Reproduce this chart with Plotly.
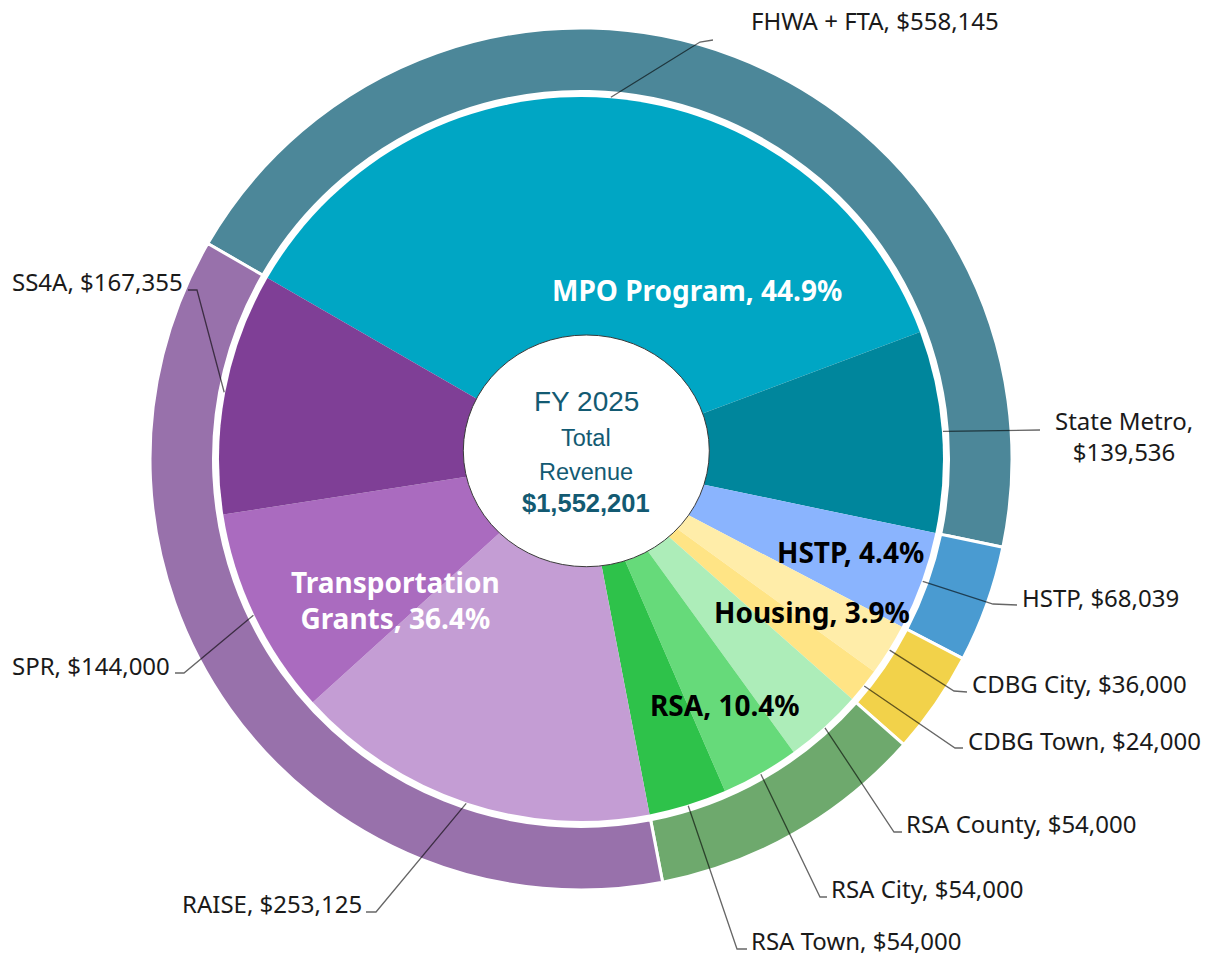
import math
import plotly.graph_objects as go

# ---------------- data ----------------
inner_labels = ["FHWA + FTA", "State Metro", "HSTP", "CDBG City", "CDBG Town",
                "RSA County", "RSA City", "RSA Town", "RAISE", "SPR", "SS4A"]
inner_values = [558145, 139536, 68039, 36000, 24000,
                54000, 54000, 54000, 253125, 144000, 167355]
inner_groups = ["MPO Program", "MPO Program", "HSTP", "Housing", "Housing",
                "RSA", "RSA", "RSA", "Transportation Grants",
                "Transportation Grants", "Transportation Grants"]
group_labels = ["MPO Program", "HSTP", "Housing", "RSA", "Transportation Grants"]
group_values = [sum(v for v, g in zip(inner_values, inner_groups) if g == name)
                for name in group_labels]
total_revenue = 1552201
center_title = "FY 2025"

# ---------------- styles ----------------
inner_colors = ["#00A6C4", "#00869C", "#8AB4FE", "#FFEDA9", "#FFE485",
                "#ADEDB9", "#66DA7A", "#2EC24A", "#C49DD4", "#AA6BBF", "#7F3F96"]
group_colors = ["#4C8799", "#4A9BD1", "#F2D24A", "#6EA96D", "#9871AB"]
group_text_colors = {"MPO Program": "white", "HSTP": "black", "Housing": "black",
                     "RSA": "black", "Transportation Grants": "white"}

W, H = 1214, 956
CX, CY = 581, 459          # pie centre (px)
R_OUT, R_RING_IN, R_IN = 431, 367.5, 362
ROTATION = -60


def fx(x):
    return x / W


def fy(y):
    return 1 - y / H


# label layout (px): elbow point, end of horizontal tick, text anchor
label_layout = {
    "FHWA + FTA":  dict(elbow=(700, 42), end=(713, 40), text=(749, 20), anchor="left"),
    "State Metro": dict(elbow=(1040, 430), end=(1040, 430), text=(1124, 436), anchor="center"),
    "HSTP":        dict(elbow=(993, 604), end=(1017, 605), text=(1020, 597), anchor="left"),
    "CDBG City":   dict(elbow=(954, 691), end=(967, 692), text=(970, 683), anchor="left"),
    "CDBG Town":   dict(elbow=(955, 748), end=(963, 748), text=(966, 740), anchor="left"),
    "RSA County":  dict(elbow=(894, 832), end=(902, 832), text=(904, 823), anchor="left"),
    "RSA City":    dict(elbow=(820, 897), end=(827, 897), text=(829, 888), anchor="left"),
    "RSA Town":    dict(elbow=(737, 949), end=(747, 949), text=(749, 940), anchor="left"),
    "RAISE":       dict(elbow=(376, 912), end=(366, 912), text=(364, 903), anchor="right"),
    "SPR":         dict(elbow=(184, 673), end=(175, 673), text=(172, 665), anchor="right"),
    "SS4A":        dict(elbow=(197, 290), end=(188, 290), text=(185, 282), anchor="right"),
}
group_label_pos = {
    "MPO Program": (697, 290),
    "HSTP": (850, 552),
    "Housing": (812, 612),
    "RSA": (725, 705),
    "Transportation Grants": (395, 600),
}

fig = go.Figure()

# outer ring (groups)
fig.add_trace(go.Pie(
    labels=group_labels, values=group_values, sort=False, direction="clockwise",
    rotation=ROTATION, hole=R_RING_IN / R_OUT, textinfo="none",
    marker=dict(colors=group_colors, line=dict(color="white", width=3)),
    domain=dict(x=[fx(CX - R_OUT), fx(CX + R_OUT)], y=[fy(CY + R_OUT), fy(CY - R_OUT)]),
    showlegend=False, hoverinfo="label+value+percent",
))

# inner pie (detail)
fig.add_trace(go.Pie(
    labels=inner_labels, values=inner_values, sort=False, direction="clockwise",
    rotation=ROTATION, textinfo="none",
    marker=dict(colors=inner_colors, line=dict(width=0)),
    domain=dict(x=[fx(CX - R_IN), fx(CX + R_IN)], y=[fy(CY + R_IN), fy(CY - R_IN)]),
    showlegend=False, hoverinfo="label+value+percent",
))

shapes = []
annotations = []

# leader lines + outside labels, starting at each slice's mid angle
total = sum(inner_values)
cum = 0
for lab, val in zip(inner_labels, inner_values):
    mid = ROTATION + 360 * (cum + val / 2) / total
    cum += val
    th = math.radians(mid)
    sx = CX + (R_IN + 1) * math.sin(th)
    sy = CY - (R_IN + 1) * math.cos(th)
    L = label_layout[lab]
    (ex, ey), (hx, hy) = L["elbow"], L["end"]
    path = f"M {fx(sx)},{fy(sy)} L {fx(ex)},{fy(ey)} L {fx(hx)},{fy(hy)}"
    shapes.append(dict(type="path", xref="paper", yref="paper", path=path,
                       line=dict(color="rgba(0,0,0,0.6)", width=1.3), layer="above"))
    txt = f"{lab}, ${val:,}"
    if lab == "State Metro":
        txt = f"{lab},<br>${val:,}"
    tx, ty = L["text"]
    annotations.append(dict(x=fx(tx), y=fy(ty), xref="paper", yref="paper",
                            text=txt, showarrow=False, xanchor=L["anchor"],
                            yanchor="middle", align="center",
                            font=dict(family="Noto Sans", size=24, color="#1a1a1a")))

# group labels inside the pie
for name, val in zip(group_labels, group_values):
    pct = 100 * val / total
    txt = f"{name}, {pct:.1f}%"
    if name == "Transportation Grants":
        txt = f"Transportation<br>Grants, {pct:.1f}%"
    x, y = group_label_pos[name]
    annotations.append(dict(x=fx(x), y=fy(y), xref="paper", yref="paper",
                            text=f"<b>{txt}</b>", showarrow=False,
                            xanchor="center", yanchor="middle", align="center",
                            font=dict(family="Noto Sans", size=28,
                                      color=group_text_colors[name])))

# centre ellipse
shapes.append(dict(type="circle", xref="paper", yref="paper",
                   x0=fx(463.3), x1=fx(709.3), y0=fy(566.7), y1=fy(335),
                   fillcolor="white", line=dict(color="#3a3a3a", width=1),
                   layer="above"))

centre_color = "#135A72"
centre_lines = [
    (center_title, 402, 28, False),
    ("Total", 438, 23.5, False),
    ("Revenue", 472, 23.5, False),
    (f"${total_revenue:,}", 503, 25.5, True),
]
for txt, y, size, bold in centre_lines:
    annotations.append(dict(x=fx(586), y=fy(y), xref="paper", yref="paper",
                            text=f"<b>{txt}</b>" if bold else txt, showarrow=False,
                            xanchor="center", yanchor="middle",
                            font=dict(family="Liberation Sans", size=size,
                                      color=centre_color)))

fig.update_layout(
    width=W, height=H, margin=dict(l=0, r=0, t=0, b=0),
    paper_bgcolor="white", plot_bgcolor="white",
    showlegend=False, shapes=shapes, annotations=annotations,
)

fig.write_html("out.html", config={"displayModeBar": False},
               post_script="document.body.style.margin='0';")
